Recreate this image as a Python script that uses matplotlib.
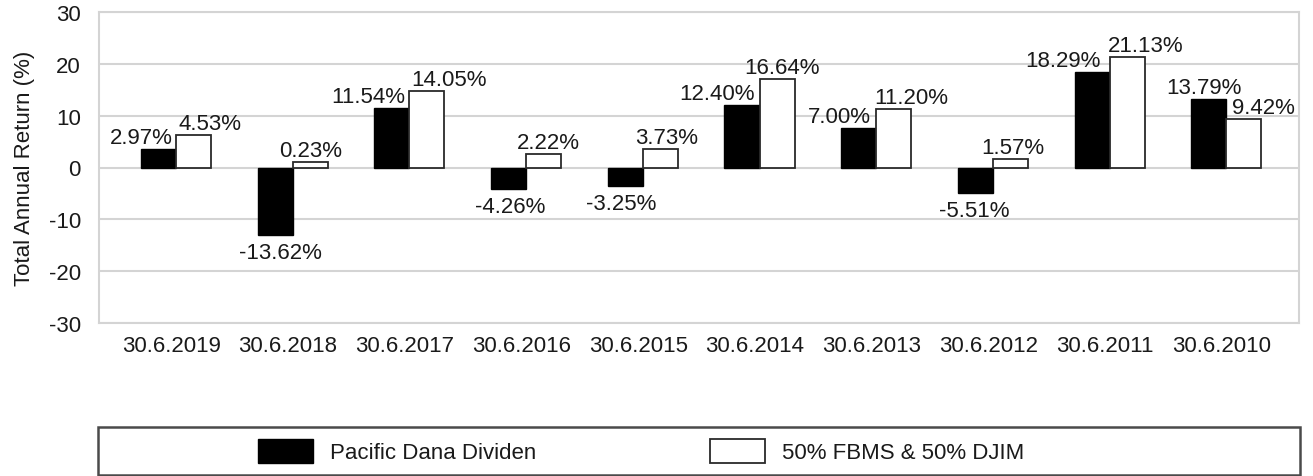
import matplotlib.pyplot as plt
import numpy as np
from matplotlib.patches import Rectangle

plt.rcParams['font.family'] = ['Liberation Sans', 'DejaVu Sans']
plt.rcParams['axes.unicode_minus'] = False

dates = ['30.6.2019', '30.6.2018', '30.6.2017', '30.6.2016', '30.6.2015',
         '30.6.2014', '30.6.2013', '30.6.2012', '30.6.2011', '30.6.2010']
pdd_labels = [2.97, -13.62, 11.54, -4.26, -3.25, 12.40, 7.00, -5.51, 18.29, 13.79]
bench_labels = [4.53, 0.23, 14.05, 2.22, 3.73, 16.64, 11.20, 1.57, 21.13, 9.42]
# bar heights as drawn in the picture (not quite the printed values)
pdd_bars = [3.5, -13.1, 11.5, -4.1, -3.5, 12.1, 7.6, -4.9, 18.4, 13.2]
bench_bars = [6.2, 1.1, 14.7, 2.6, 3.5, 17.0, 11.2, 1.6, 21.3, 9.4]

# horizontal nudges of the value labels, in pixels
pdd_dx = [-17, 5, -24, 2, -4, -25, -19, -1, -29, -5]
bench_dx = [16, 0, 22, 5, 6, 5, 18, 2, 19, 20]

W, H = 1313, 477
fig = plt.figure(figsize=(W / 100, H / 100), dpi=100)
ax = fig.add_axes([99 / W, 1 - 324 / H, 1200 / W, 311 / H])

grid_col = '#d4d4d4'
txt_col = '#1a1a1a'
fs = 16

x = np.arange(len(dates))
w = 0.30
ax.bar(x - w / 2, pdd_bars, w, color='black', edgecolor='black', lw=1, zorder=3,
       label='Pacific Dana Dividen')
ax.bar(x + w / 2, bench_bars, w, color='white', edgecolor='#2a2a2a', lw=1.3, zorder=3,
       label='50% FBMS & 50% DJIM')

px = 0.72  # pixel -> point
for i in range(len(dates)):
    for val, h, dx, off in [(pdd_labels[i], pdd_bars[i], pdd_dx[i], -w / 2),
                            (bench_labels[i], bench_bars[i], bench_dx[i], w / 2)]:
        if h >= 0:
            ax.annotate('%.2f%%' % val, (x[i] + off, h), xytext=(dx * px, 1 * px),
                        textcoords='offset points', ha='center', va='bottom',
                        fontsize=fs, color=txt_col, zorder=4)
        else:
            ax.annotate('%.2f%%' % val, (x[i] + off, h), xytext=(dx * px, -7 * px),
                        textcoords='offset points', ha='center', va='top',
                        fontsize=fs, color=txt_col, zorder=4)

ax.set_xlim(-0.66, 9.623)
ax.set_ylim(-30, 30)
ax.set_yticks(np.arange(-30, 31, 10))
ax.set_xticks(x - 0.04)
ax.set_xticklabels(dates)
ax.tick_params(axis='both', length=0, labelsize=fs, colors=txt_col)
ax.tick_params(axis='y', pad=13)
ax.tick_params(axis='x', pad=9)
ax.grid(axis='y', color=grid_col, lw=1.5, zorder=0)
for s in ax.spines.values():
    s.set_color(grid_col)
    s.set_linewidth(1.5)
ax.set_ylabel('Total Annual Return (%)', fontsize=fs, color=txt_col, labelpad=10)

# legend box at the bottom
fig.patches.append(Rectangle((98 / W, 1.5 / H), 1202 / W, 48 / H, transform=fig.transFigure,
                             facecolor='white', edgecolor='#4a4a4a', lw=1.8))
fig.legend(loc='center left', bbox_to_anchor=(258 / W, 1 - 452 / H), ncol=2,
           frameon=False, fontsize=fs, handlelength=2.48, handleheight=1.35,
           handletextpad=0.77, columnspacing=7.8, borderpad=0, borderaxespad=0,
           labelcolor=txt_col)

fig.savefig('out.png', dpi=100)
